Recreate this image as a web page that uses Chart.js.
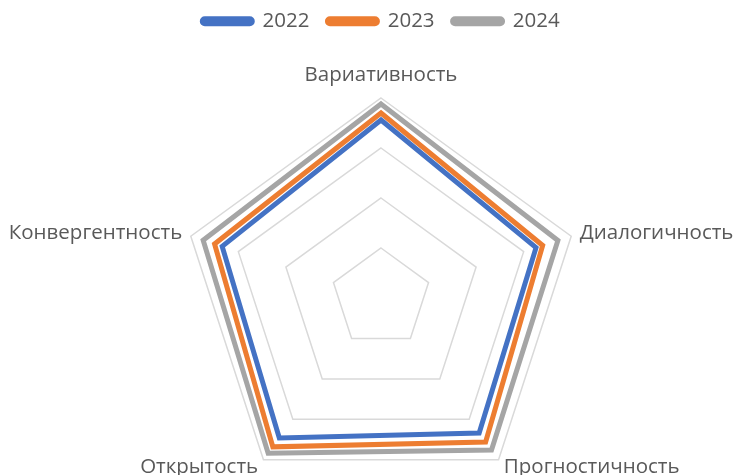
<!DOCTYPE html>
<html>
<head>
<meta charset="utf-8">
<script src="https://cdn.jsdelivr.net/npm/chart.js@4"></script>
<style>
  html, body { margin: 0; padding: 0; background: #fff; overflow: hidden; }
  #wrap { width: 734px; height: 555px; position: relative; }
</style>
</head>
<body>
<div id="wrap"><canvas id="radarChart"></canvas></div>
<script>
const categories = ["Вариативность", "Диалогичность", "Прогностичность", "Открытость", "Конвергентность"];
const years = ["2022", "2023", "2024"];
const values2022 = [89, 81.5, 83.5, 86.5, 83.5];
const values2023 = [92.5, 85, 89, 92, 87.5];
const values2024 = [97, 93, 94, 96, 93.5];
const scaleTicks = [0, 25, 50, 75, 100];

const FONT = "'Open Sans', sans-serif";
const TEXT = "#595959";

// подписи осей рисуем сами, чтобы поставить их как в Excel
const axisLabels = {
  id: "axisLabels",
  afterDraw(chart) {
    const r = chart.scales.r;
    const ctx = chart.ctx;
    ctx.save();
    ctx.font = "20.5px " + FONT;
    ctx.fillStyle = TEXT;
    ctx.textBaseline = "middle";
    chart.data.labels.forEach((lbl, i) => {
      const dx = r.getPointPosition(i, r.drawingArea).x - r.xCenter;
      const centered = Math.abs(dx) < 1;
      const p = r.getPointPosition(i, r.drawingArea + (centered ? 23 : 9));
      ctx.textAlign = centered ? "center" : (dx > 0 ? "left" : "right");
      ctx.fillText(lbl, p.x, p.y);
    });
    ctx.restore();
  }
};

const colors = ["#4472C4", "#ED7D31", "#A5A5A5"];
const series = [values2022, values2023, values2024];

new Chart(document.getElementById("radarChart"), {
  type: "radar",
  data: {
    labels: categories,
    datasets: series.map((vals, i) => ({
      label: years[i],
      data: vals,
      borderColor: colors[i],
      backgroundColor: colors[i],
      borderWidth: 5,
      pointRadius: 0,
      pointHoverRadius: 0,
      fill: false,
      tension: 0,
    })),
  },
  options: {
    responsive: true,
    maintainAspectRatio: false,
    animation: false,
    layout: { padding: { top: -7, left: 181, right: 153, bottom: 0 } },
    plugins: {
      tooltip: { enabled: false },
      legend: {
        position: "top",
        labels: {
          color: TEXT,
          font: { family: FONT, size: 20.5 },
          boxWidth: 50,
          boxHeight: 5,
          useBorderRadius: true,
          borderRadius: 2.5,
          padding: 18,
        },
      },
    },
    scales: {
      r: {
        min: scaleTicks[0],
        max: scaleTicks[scaleTicks.length - 1],
        ticks: { display: false, stepSize: scaleTicks[1] - scaleTicks[0] },
        angleLines: { display: false },
        grid: { color: "#D9D9D9", lineWidth: 1.5 },
        pointLabels: { display: false },
      },
    },
  },
  plugins: [axisLabels],
});
</script>
</body>
</html>
